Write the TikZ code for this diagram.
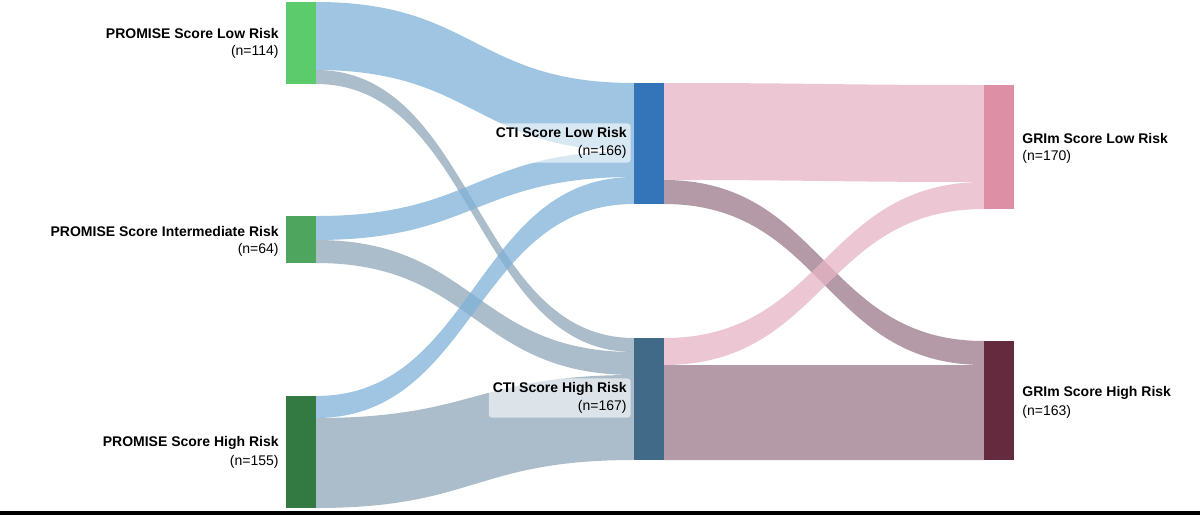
\documentclass[tikz,border=0pt]{standalone}
\usepackage{fontspec}
\setmainfont{Liberation Sans}
\definecolor{pLow}{HTML}{5CCB6B}
\definecolor{pInt}{HTML}{4EA65E}
\definecolor{pHigh}{HTML}{327A41}
\definecolor{cLow}{HTML}{3375B8}
\definecolor{cHigh}{HTML}{416A89}
\definecolor{gLow}{HTML}{DD8FA6}
\definecolor{gHigh}{HTML}{652A3E}
\definecolor{fBlue}{HTML}{7FB2D8}
\definecolor{fSteel}{HTML}{8FA5B8}
\definecolor{fPink}{HTML}{E6B3C3}
\definecolor{fMauve}{HTML}{9A7888}
\tikzset{every picture/.style={line width=0.75pt}}
% band between two columns: x1, top1, bottom1, x2, top2, bottom2, colour
\newcommand{\band}[7]{%
  \fill[#7,opacity=0.75] (#1,#2) .. controls ({(#1+#4)/2},#2) and ({(#1+#4)/2},#5) .. (#4,#5)
    -- (#4,#6) .. controls ({(#1+#4)/2},#6) and ({(#1+#4)/2},#3) .. (#1,#3) -- cycle;}
\tikzset{
  bar/.style={anchor=north west,inner sep=0pt,minimum width=30pt},
  title/.style={font=\bfseries\fontsize{14}{16}\selectfont,inner sep=1pt},
  count/.style={font=\fontsize{14}{16}\selectfont,inner sep=1pt},
  plate/.style={fill=white,fill opacity=0.6,text opacity=1,rounded corners=3pt}
}
\begin{document}
\begin{tikzpicture}[x=1pt,y=-1pt]
\useasboundingbox (0,0) rectangle (1200,515);
\fill[black] (0,511) rectangle (1200,515);

% flows PROMISE -> CTI
\band{316}{2}{70}{634}{83}{151}{fBlue}
\band{316}{70}{84}{634}{338}{352}{fSteel}
\band{316}{216}{240}{634}{151}{177}{fBlue}
\band{316}{240}{263}{634}{352}{375}{fSteel}
\band{316}{396}{418}{634}{177}{204}{fBlue}
\band{316}{418}{508}{634}{375}{460}{fSteel}
% flows CTI -> GRIm
\band{664}{83}{180}{984}{85}{182}{fPink}
\band{664}{180}{204}{984}{341}{365}{fMauve}
\band{664}{338}{365}{984}{182}{209}{fPink}
\band{664}{365}{460}{984}{365}{460}{fMauve}

% bars
\node[bar,fill=pLow,minimum height=82pt] (pl) at (286,2) {};
\node[bar,fill=pInt,minimum height=47pt] (pi) at (286,216) {};
\node[bar,fill=pHigh,minimum height=112pt] (ph) at (286,396) {};
\node[bar,fill=cLow,minimum height=121pt] (cl) at (634,83) {};
\node[bar,fill=cHigh,minimum height=122pt] (ch) at (634,338) {};
\node[bar,fill=gLow,minimum height=124pt] (gl) at (984,85) {};
\node[bar,fill=gHigh,minimum height=119pt] (gh) at (984,341) {};

% labels
\node[title,anchor=east] (plt) at (280,33) {PROMISE Score Low Risk};
\node[count,anchor=east] (pln) at (280,52) {(n=114)};
\node[title,anchor=east] (pit) at (280,231) {PROMISE Score Intermediate Risk};
\node[count,anchor=east] (pin) at (280,250) {(n=64)};
\node[title,anchor=east] (pht) at (280,443) {PROMISE Score High Risk};
\node[count,anchor=east] (phn) at (280,462) {(n=155)};
\node[plate,align=right,anchor=east,inner sep=4pt,font=\fontsize{14}{18}\selectfont] (clt) at (631,143)
  {\textbf{CTI Score Low Risk}\\(n=166)};
\node[plate,align=right,anchor=east,inner sep=4pt,font=\fontsize{14}{18}\selectfont] (cht) at (631,398)
  {\textbf{CTI Score High Risk}\\(n=167)};
\node[title,anchor=west] (glt) at (1021,138) {GRIm Score Low Risk};
\node[count,anchor=west] (gln) at (1021,157) {(n=170)};
\node[title,anchor=west] (ght) at (1021,393) {GRIm Score High Risk};
\node[count,anchor=west] (ghn) at (1021,412) {(n=163)};
\end{tikzpicture}
\end{document}
